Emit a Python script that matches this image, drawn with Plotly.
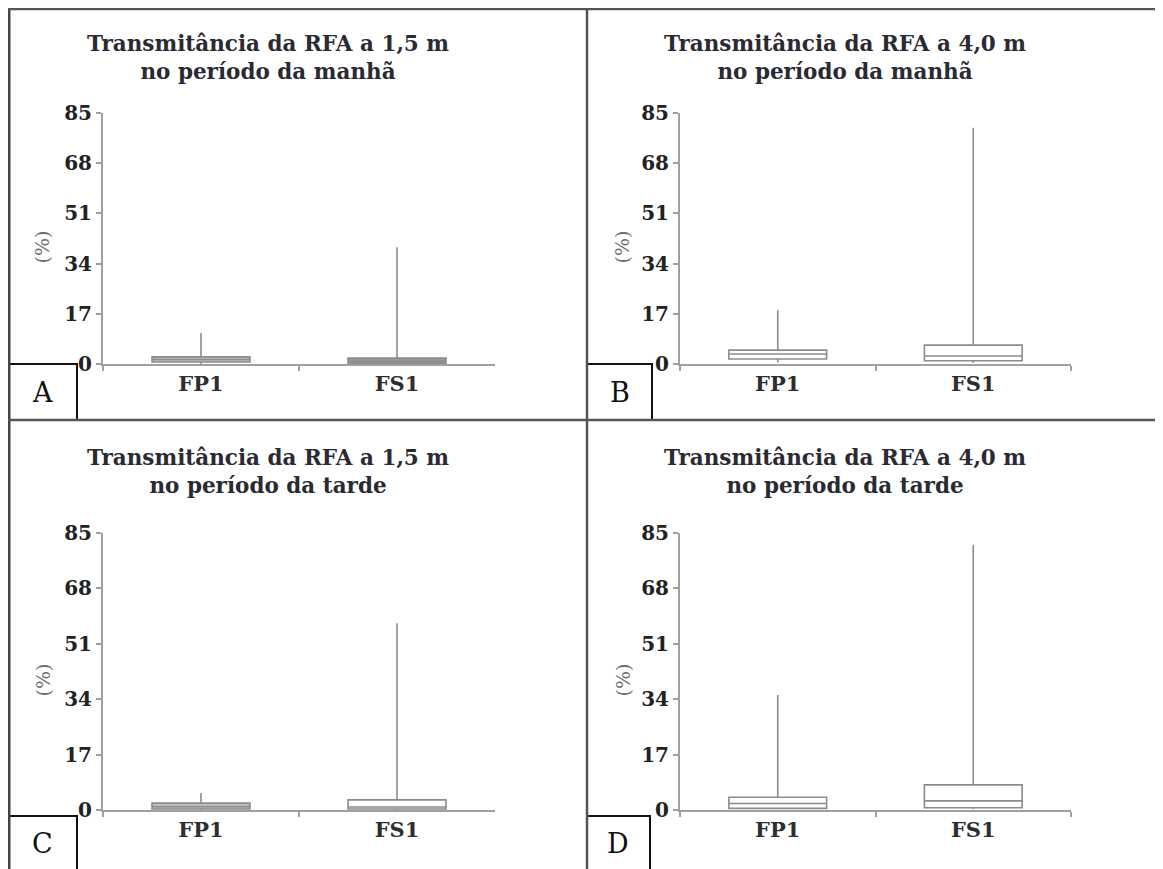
import plotly.graph_objects as go

W, H = 1163, 869
OFF = 8  # browser body margin; positions below are given in window pixels

categories = ["FP1", "FS1"]
y_ticks = [0, 17, 34, 51, 68, 85]

panel_letters = ["A", "B", "C", "D"]
panel_titles = [
    "Transmitância da RFA a 1,5 m<br>no período da manhã",
    "Transmitância da RFA a 4,0 m<br>no período da manhã",
    "Transmitância da RFA a 1,5 m<br>no período da tarde",
    "Transmitância da RFA a 4,0 m<br>no período da tarde",
]

# per panel: [FP1, FS1]
A_low = [0.0, 0.0]
A_q1 = [0.7, 0.3]
A_med = [1.5, 1.0]
A_q3 = [2.4, 2.0]
A_up = [10.5, 39.5]

B_low = [0.5, 0.3]
B_q1 = [1.7, 1.1]
B_med = [3.4, 2.7]
B_q3 = [4.7, 6.4]
B_up = [18.2, 80.0]

C_low = [0.0, 0.0]
C_q1 = [0.3, 0.3]
C_med = [1.0, 0.9]
C_q3 = [2.1, 3.1]
C_up = [5.2, 57.3]

D_low = [0.2, 0.2]
D_q1 = [0.5, 0.7]
D_med = [2.0, 2.8]
D_q3 = [3.9, 7.7]
D_up = [35.3, 81.3]

panels = [
    (A_low, A_q1, A_med, A_q3, A_up),
    (B_low, B_q1, B_med, B_q3, B_up),
    (C_low, C_q1, C_med, C_q3, C_up),
    (D_low, D_q1, D_med, D_q3, D_up),
]
fills = [
    ["#bdbdbd", "#9a9a9a"],
    ["white", "white"],
    ["#bdbdbd", "white"],
    ["white", "white"],
]

def px(x):
    return (x - OFF) / W

def py(y):
    return 1 - (y - OFF) / H

# plot areas in window pixels: (x0, x1, ytop, ybottom)
areas = [
    (103, 495, 113, 364),
    (680, 1071, 113, 364),
    (103, 495, 533, 810),
    (680, 1071, 533, 810),
]

fig = go.Figure()
SERIF = "DejaVu Serif"
GRAY = "#a0a0a0"

for i, (low, q1, med, q3, up) in enumerate(panels):
    xa = "x" if i == 0 else f"x{i+1}"
    ya = "y" if i == 0 else f"y{i+1}"
    for j, cat in enumerate(categories):
        fig.add_trace(go.Box(
            x=[cat], q1=[q1[j]], median=[med[j]], q3=[q3[j]],
            lowerfence=[low[j]], upperfence=[up[j]],
            xaxis=xa, yaxis=ya, width=0.5, whiskerwidth=0,
            fillcolor=fills[i][j], line=dict(color="#8c8c8c", width=1.6),
            boxpoints=False, hoverinfo="skip", showlegend=False,
        ))

layout = dict(
    width=W, height=H, margin=dict(l=0, r=0, t=0, b=0, autoexpand=False),
    paper_bgcolor="white", plot_bgcolor="white", showlegend=False,
    boxmode="overlay",
)
annotations = []
shapes = []
for i, (x0, x1, yt, yb) in enumerate(areas):
    sx = "" if i == 0 else str(i + 1)
    ya = "y" + sx
    layout["xaxis" + sx] = dict(
        domain=[px(x0), px(x1)], anchor=ya, type="category",
        categoryorder="array", categoryarray=categories,
        tickvals=categories, ticktext=[f"<b>{c}</b>" for c in categories],
        range=[-0.5, 1.5], tickson="boundaries", ticks="outside", ticklen=5,
        tickcolor=GRAY, tickwidth=1.5, showline=True, linecolor=GRAY, linewidth=2,
        showgrid=False, zeroline=False, automargin=False,
        tickfont=dict(family=SERIF, size=21, color="#2e2e2e"),
        fixedrange=True,
    )
    layout["yaxis" + sx] = dict(
        domain=[py(yb), py(yt)], anchor="x" + sx,
        range=[0, 85], tickvals=y_ticks, ticktext=[f"<b>{v}</b>" for v in y_ticks],
        ticks="outside", ticklen=5, tickcolor=GRAY, tickwidth=1.5,
        showline=True, linecolor=GRAY, linewidth=2, showgrid=False, zeroline=False,
        automargin=False,
        tickfont=dict(family=SERIF, size=20, color="#222222"),
        fixedrange=True,
    )

    pcx = 268 if i % 2 == 0 else 845
    ty = 57 if i < 2 else 471
    annotations.append(dict(
        text=f"<b>{panel_titles[i]}</b>", xref="paper", yref="paper",
        x=px(pcx), y=py(ty), xanchor="center", yanchor="middle",
        showarrow=False, align="center",
        font=dict(family=SERIF, size=21.5, color="#2a2a33"),
    ))
    annotations.append(dict(
        text="(%)", xref="paper", yref="paper",
        x=px(42 if i % 2 == 0 else 622), y=py((yt + yb) / 2 + 9),
        textangle=-90, showarrow=False, xanchor="center", yanchor="middle",
        font=dict(family=SERIF, size=19, color="#6e6e6e"),
    ))

# label boxes (window pixels)
boxes = [(8, 77, 364, 420), (587, 652, 364, 420), (8, 77, 816, 880), (587, 650, 816, 880)]
for (bx0, bx1, by0, by1), letter in zip(boxes, panel_letters):
    shapes.append(dict(type="rect", xref="paper", yref="paper",
                       x0=px(bx0), x1=px(bx1), y0=py(by1), y1=py(by0),
                       line=dict(color="#111111", width=2), fillcolor="white"))
    annotations.append(dict(
        text=letter, xref="paper", yref="paper",
        x=px((bx0 + bx1) / 2), y=py((by0 + min(by1, 869)) / 2 + 1),
        xanchor="center", yanchor="middle", showarrow=False,
        font=dict(family=SERIF, size=27, color="#111111"),
    ))

# frame lines
shapes += [
    dict(type="line", xref="paper", yref="paper", x0=px(9), x1=px(9), y0=0, y1=py(9),
         line=dict(color="#444444", width=3)),
    dict(type="line", xref="paper", yref="paper", x0=px(8), x1=1, y0=py(9), y1=py(9),
         line=dict(color="#555555", width=2.5)),
    dict(type="line", xref="paper", yref="paper", x0=px(587), x1=px(587), y0=0, y1=py(9),
         line=dict(color="#555555", width=2.5)),
    dict(type="line", xref="paper", yref="paper", x0=px(8), x1=1, y0=py(420), y1=py(420),
         line=dict(color="#555555", width=2.5)),
]

layout["annotations"] = annotations
layout["shapes"] = shapes
fig.update_layout(**layout)
fig.write_html("out.html")
